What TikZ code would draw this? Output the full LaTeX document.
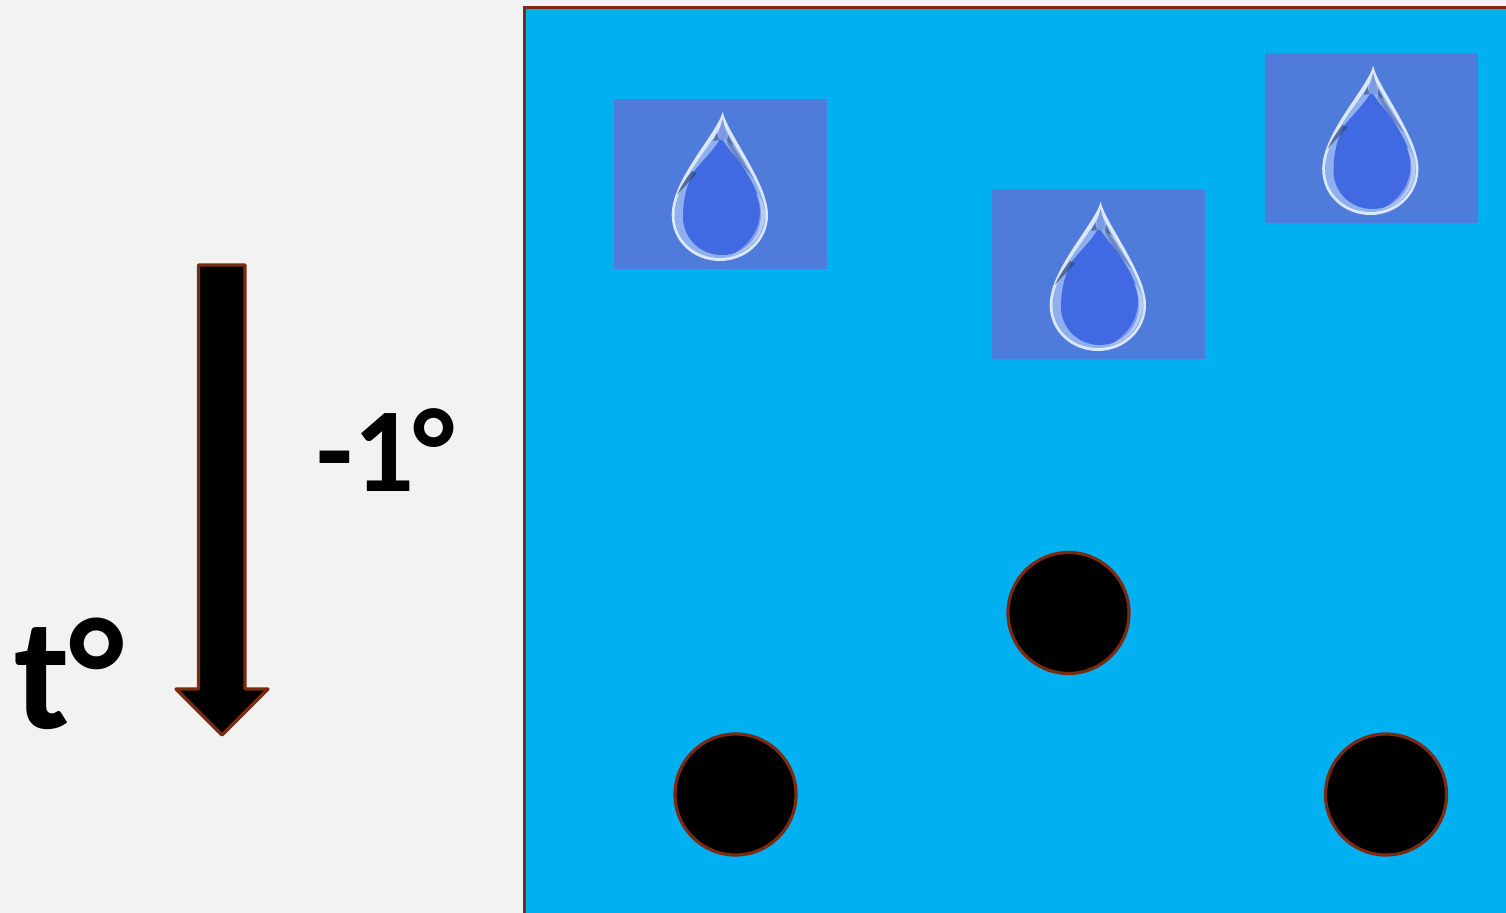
\documentclass[tikz,border=0pt]{standalone}
\usepackage{fontspec}
\setmainfont{Carlito}
\definecolor{bgc}{HTML}{F2F2F2}
\definecolor{sea}{HTML}{00B0F0}
\definecolor{edgec}{HTML}{7A2A10}
\definecolor{boxc}{HTML}{4F7BDB}
\definecolor{dropc}{HTML}{4169E2}
\definecolor{rimc}{HTML}{8FB0EE}
\tikzset{
  ink/.style={draw=edgec,fill=black,line width=1.6pt},
  ball/.style={circle,ink,minimum size=60.5pt,inner sep=0pt},
  label/.style={inner sep=0pt,text=black,anchor=base west},
  dropbox/.style={fill=boxc,draw=none},
  pics/waterdrop/.style={code={
    \fill[dropbox] (0,0) rectangle (213,170);
    % outer bright rim
    \path[fill=white!70!rimc] (108.7,12.7) .. controls (103,35) and (57.7,80) .. (57.7,116)
      .. controls (57.7,143) and (80,162) .. (106,162)
      .. controls (132,162) and (154,142) .. (154,116)
      .. controls (154,84) and (112,32) .. (108.7,12.7) -- cycle;
    % pale body
    \path[fill=rimc] (108.7,22) .. controls (104,40) and (60.5,82) .. (60.5,116)
      .. controls (60.5,141) and (81,159) .. (106,159)
      .. controls (131,159) and (151.5,140) .. (151.5,116)
      .. controls (151.5,86) and (113,40) .. (108.7,22) -- cycle;
    % deep body
    \path[fill=dropc] (107,38) .. controls (101,50) and (90,60) .. (81,71)
      .. controls (73,84) and (69,100) .. (69,118)
      .. controls (69,138) and (85,156) .. (108,156)
      .. controls (130,156) and (146,140) .. (147,116)
      .. controls (147,98) and (139,84) .. (129,68)
      .. controls (121,56) and (112,48) .. (107,38) -- cycle;
    % soft glow on the lower right
    \path[fill=white,opacity=.35] (151,116) .. controls (150,136) and (136,152) .. (118,156)
      .. controls (132,148) and (146,134) .. (146,112)
      .. controls (146,106) and (144,100) .. (142,94)
      .. controls (148,100) and (151,108) .. (151,116) -- cycle;
    % dark streak on the upper left
    \path[fill=boxc!50!black,opacity=.6] (78,72) .. controls (72,80) and (66,88) .. (63,96)
      .. controls (70,88) and (76,82) .. (83,74) -- cycle;
    % dark line on the upper right
    \path[fill=boxc!50!black,opacity=.35] (116,42) .. controls (122,52) and (130,64) .. (140,80)
      .. controls (130,70) and (120,56) .. (113,44) -- cycle;
    % neck glint
    \path[fill=boxc!75!white] (108.7,20) .. controls (106,28) and (104,36) .. (105,40)
      .. controls (107,42) and (111,42) .. (113,39) .. controls (112,32) and (110,26) .. (108.7,20) -- cycle;
    \path[fill=boxc!50!black,opacity=.55] (103,34) -- (99,42) -- (105,41) -- cycle;
    \path[fill=boxc!50!black,opacity=.55] (114,36) -- (119,46) -- (113,42) -- cycle;
  }}
}
\begin{document}
\begin{tikzpicture}[x=0.5pt,y=-0.5pt]
\useasboundingbox (0,0) rectangle (1506,913);
\fill[bgc] (0,0) rectangle (1506,913);
\clip (0,0) rectangle (1506,913);
\draw[draw=edgec,fill=sea,line width=1.5pt] (524,8) rectangle (1530,940);
\pic at (614,99) {waterdrop};
\pic at (992,189) {waterdrop};
\pic at (1264.5,53) {waterdrop};
\node[ball] (b1) at (1068.5,613) {};
\node[ball] (b2) at (735.5,794.5) {};
\node[ball] (b3) at (1386,794.5) {};
\draw[ink,line join=round] (198.5,265) -- (245,265) -- (245,689) -- (268,689) -- (222,735) -- (176,689) -- (198.5,689) -- cycle;
\node[label,font=\fontsize{60}{62}\selectfont\bfseries] (minus) at (316,492) {-1°};
\node[label,font=\fontsize{80}{82}\selectfont\bfseries] (temp) at (14,729) {t°};
\end{tikzpicture}
\end{document}
